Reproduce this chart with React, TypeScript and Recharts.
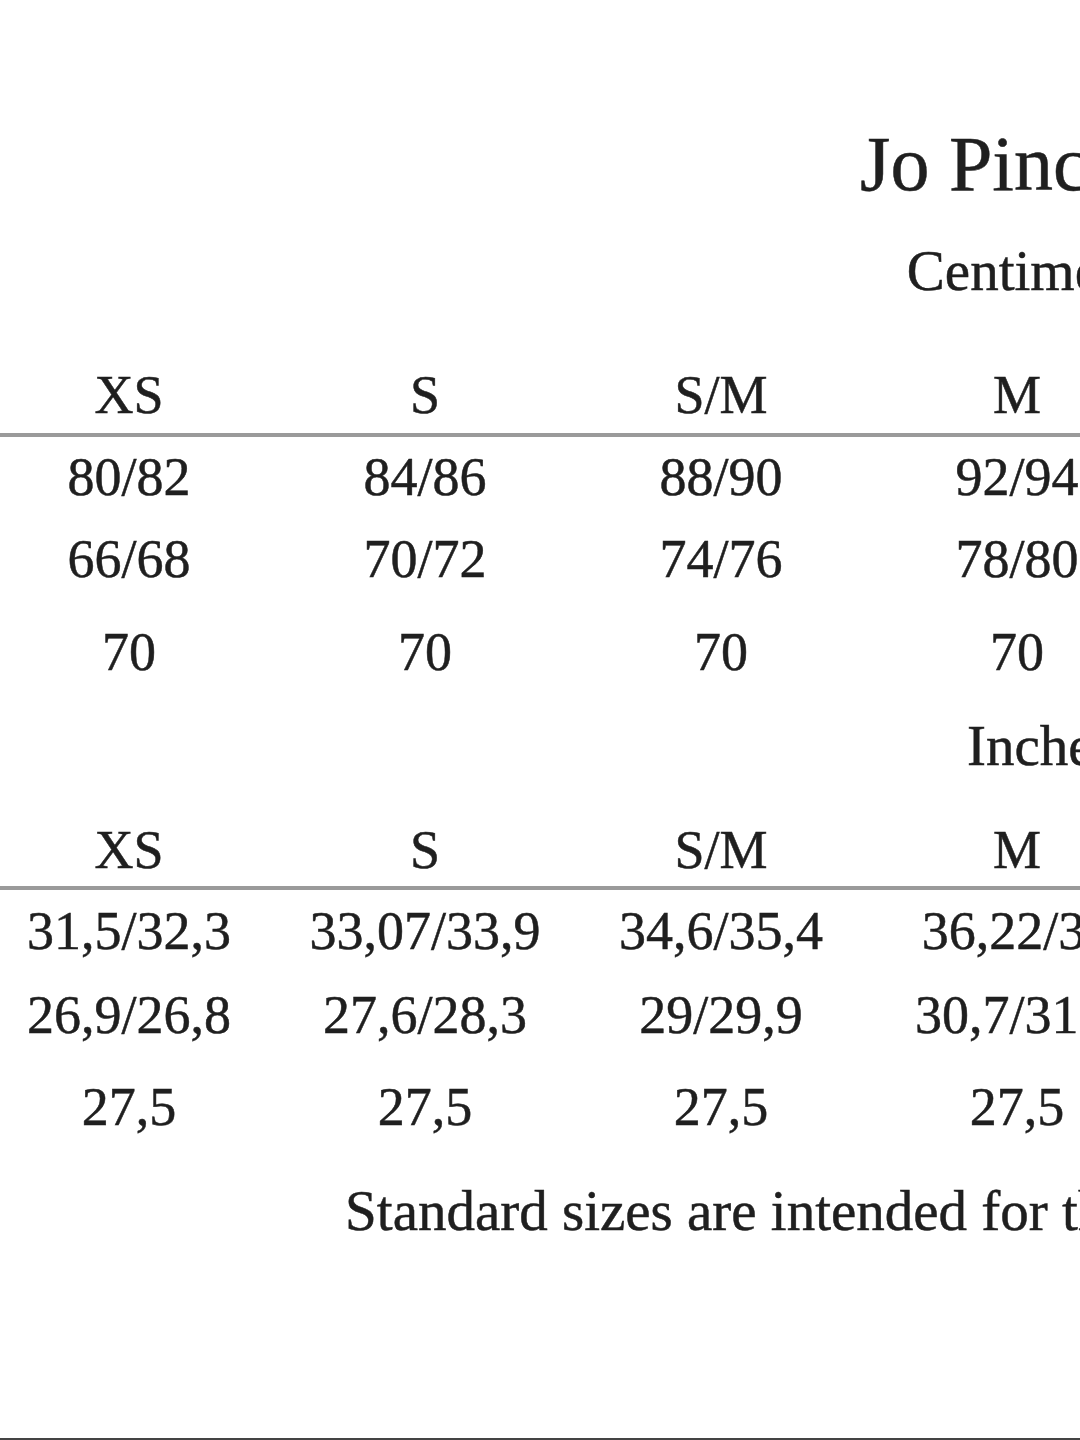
import React from "react";
import { ScatterChart, Scatter, XAxis, YAxis, ReferenceLine } from "recharts";

// size chart columns
const sizes = ["XS", "S", "S/M", "M"];

// centimetres
const cmBust = ["80/82", "84/86", "88/90", "92/94"];
const cmWaist = ["66/68", "70/72", "74/76", "78/80"];
const cmLength = ["70", "70", "70", "70"];

// inches
const inBust = ["31,5/32,3", "33,07/33,9", "34,6/35,4", "36,22/37"];
const inWaist = ["26,9/26,8", "27,6/28,3", "29/29,9", "30,7/31,5"];
const inLength = ["27,5", "27,5", "27,5", "27,5"];

const titleText = "Jo Pinc";
const cmLabel = "Centimeters";
const inLabel = "Inches";
const footerText = "Standard sizes are intended for the";

// layout (column index domain and row baselines on a 0..1440 vertical scale)
const COL_DOMAIN: [number, number] = [-0.436, 3.213];
const ROWS = {
  title: 190,
  cmUnit: 290,
  cmHead: 413,
  cmRule: 435,
  cmBust: 495,
  cmWaist: 577,
  cmLength: 670,
  inUnit: 765,
  inHead: 868,
  inRule: 888,
  inBust: 949,
  inWaist: 1033,
  inLength: 1125,
  footer: 1230,
};
const TEXT_START = { title: 2.47, cmUnit: 2.628, inUnit: 2.831, footer: 0.73 };

const FONT = "'Liberation Serif', 'DejaVu Serif', serif";
const INK = "#1f1f1f";

const rowData = (values: string[], y: number) =>
  values.map((label, i) => ({ col: i, y, label }));

const textShape = (fontSize: number, anchor: "start" | "middle") => (props: any) => (
  <text
    x={props.cx}
    y={props.cy}
    textAnchor={anchor}
    fontFamily={FONT}
    fontSize={fontSize}
    fill={INK}
    stroke={INK}
    strokeWidth={0.5}
  >
    {props.payload.label}
  </text>
);

const cellShape = textShape(54, "middle");

export default function App() {
  return (
    <div style={{ position: "absolute", left: 0, top: 0, width: 1080, height: 1440, background: "#fff" }}>
      <ScatterChart width={1080} height={1440} margin={{ top: 0, right: 0, bottom: 0, left: 0 }}>
        <XAxis type="number" dataKey="col" domain={COL_DOMAIN} allowDataOverflow hide height={0} />
        <YAxis type="number" dataKey="y" domain={[0, 1440]} reversed allowDataOverflow hide width={0} />

        <ReferenceLine y={ROWS.cmRule} stroke="#9a9a9a" strokeWidth={4} />
        <ReferenceLine y={ROWS.inRule} stroke="#9a9a9a" strokeWidth={4} />
        <ReferenceLine y={1439} stroke="#444" strokeWidth={2} />

        <Scatter data={[{ col: TEXT_START.title, y: ROWS.title, label: titleText }]} shape={textShape(78, "start")} isAnimationActive={false} />
        <Scatter data={[{ col: TEXT_START.cmUnit, y: ROWS.cmUnit, label: cmLabel }]} shape={textShape(57, "start")} isAnimationActive={false} />
        <Scatter data={[{ col: TEXT_START.inUnit, y: ROWS.inUnit, label: inLabel }]} shape={textShape(57, "start")} isAnimationActive={false} />
        <Scatter data={[{ col: TEXT_START.footer, y: ROWS.footer, label: footerText }]} shape={textShape(57, "start")} isAnimationActive={false} />

        <Scatter data={rowData(sizes, ROWS.cmHead)} shape={cellShape} isAnimationActive={false} />
        <Scatter data={rowData(cmBust, ROWS.cmBust)} shape={cellShape} isAnimationActive={false} />
        <Scatter data={rowData(cmWaist, ROWS.cmWaist)} shape={cellShape} isAnimationActive={false} />
        <Scatter data={rowData(cmLength, ROWS.cmLength)} shape={cellShape} isAnimationActive={false} />

        <Scatter data={rowData(sizes, ROWS.inHead)} shape={cellShape} isAnimationActive={false} />
        <Scatter data={rowData(inBust, ROWS.inBust)} shape={cellShape} isAnimationActive={false} />
        <Scatter data={rowData(inWaist, ROWS.inWaist)} shape={cellShape} isAnimationActive={false} />
        <Scatter data={rowData(inLength, ROWS.inLength)} shape={cellShape} isAnimationActive={false} />
      </ScatterChart>
    </div>
  );
}
